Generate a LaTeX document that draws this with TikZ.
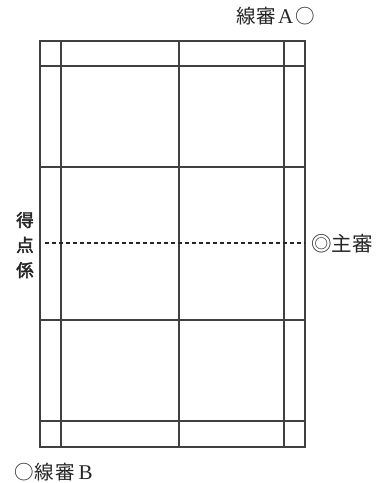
\documentclass[tikz,border=0pt]{standalone}
\usepackage{fontspec}
\setmainfont{Liberation Serif}
\newfontfamily\jp{Noto Sans CJK JP}
\newfontfamily\jpb{Noto Sans CJK JP}[FakeBold=2.5]
\newcommand{\lat}[1]{{\rmfamily\fontsize{21}{21}\selectfont #1}}
\begin{document}
\begin{tikzpicture}[x=1pt,y=-1pt,
  court/.style={draw=black!75,line width=1.1pt},
  lbl/.style={font=\jp\fontsize{19.5}{19.5}\selectfont,text=black!85,inner sep=0pt},
  lblb/.style={font=\jpb\fontsize{17.5}{25}\selectfont,text=black!85,inner sep=0pt,align=center}]
\useasboundingbox (0,0) rectangle (382,483);
% court
\draw[court] (40,41) rectangle (305,447);
\foreach \x in {61,179,284} \draw[court] (\x,41) -- (\x,447);
\foreach \y in {66,167,320,421} \draw[court] (40,\y) -- (305,\y);
% dashed line
\coordinate (dl) at (45,243);
\coordinate (dr) at (305,243);
\draw[black!85,line width=1.1pt,dash pattern=on 4pt off 3pt] (dl) -- (dr);
% labels
\node[lbl,anchor=west] (A) at (236,16) {線\hspace{1pt}審\hspace{2pt}\lat{A}\hspace{2pt}○};
\node[lbl,anchor=west] (B) at (14,472) {○\hspace{1pt}線\hspace{1pt}審\hspace{4pt}\lat{B}};
\node[lbl,anchor=west,font=\jp\fontsize{20.5}{20.5}\selectfont] (U) at (311,244) {◎主審};
\node[lblb] (S) at (25,245) {得\\点\\係};
\end{tikzpicture}
\end{document}
